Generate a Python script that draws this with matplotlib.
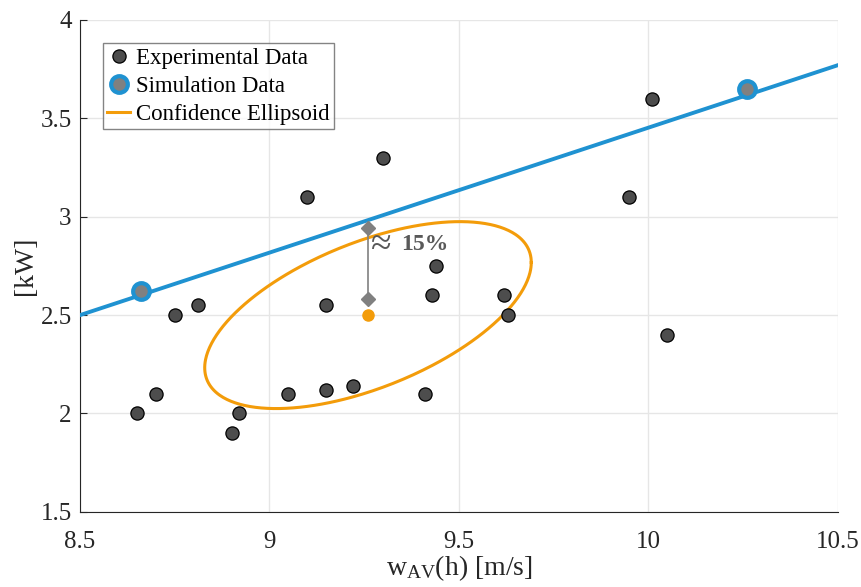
import numpy as np
import matplotlib
matplotlib.use("Agg")
import matplotlib.pyplot as plt

plt.rcParams['font.family'] = ['Liberation Serif', 'DejaVu Serif']
plt.rcParams['mathtext.fontset'] = 'custom'
plt.rcParams['mathtext.rm'] = 'Liberation Serif'
plt.rcParams['mathtext.it'] = 'Liberation Serif:italic'
plt.rcParams['mathtext.bf'] = 'Liberation Serif:bold'

# measured points
exp_w = [8.65, 8.70, 8.75, 8.81, 8.90, 8.92, 9.05, 9.10, 9.15, 9.15,
         9.22, 9.30, 9.41, 9.43, 9.44, 9.62, 9.63, 9.95, 10.01, 10.05]
exp_p = [2.00, 2.10, 2.50, 2.55, 1.90, 2.00, 2.10, 3.10, 2.55, 2.12,
         2.14, 3.30, 2.10, 2.60, 2.75, 2.60, 2.50, 3.10, 3.60, 2.40]

# simulation curve and the two simulated operating points
sim_line_w = [8.5, 10.5]
sim_line_p = [2.50, 3.77]
sim_w = [8.66, 10.26]
sim_p = [2.62, 3.65]

# mean of the measurements and confidence ellipse parameters
mean_w, mean_p = 9.26, 2.50
ell_ax_w, ell_ax_p, ell_phase = 0.431, 0.475, 0.973

# deviation marker
dev_w = [9.26, 9.26]
dev_p = [2.58, 2.945]

BLUE = '#1f92d1'
ORANGE = '#f39c0a'
GREY = '#808080'
TXT = '#262626'

fig = plt.figure(figsize=(8.61, 5.87), dpi=100)
ax = fig.add_axes([0.093, 0.128, 0.880, 0.838])

t = np.linspace(0, 2 * np.pi, 400)
ell_w = mean_w + ell_ax_w * np.cos(t)
ell_p = mean_p + ell_ax_p * np.cos(t + ell_phase)

ax.plot(sim_line_w, sim_line_p, color=BLUE, lw=2.8, zorder=3)
ax.plot(exp_w, exp_p, 'o', ms=9.5, mfc='#4d4d4d', mec='black', mew=0.9,
        zorder=4, label='Experimental Data')
ax.plot(sim_w, sim_p, 'o', ms=12, mfc=GREY, mec=BLUE, mew=3,
        zorder=5, label='Simulation Data')
ax.plot(ell_w, ell_p, color=ORANGE, lw=2.2, zorder=3,
        label='Confidence Ellipsoid')
ax.plot(mean_w, mean_p, 'o', ms=8, color=ORANGE, zorder=4)
ax.plot(dev_w, dev_p, color=GREY, lw=1.2, zorder=3)
ax.plot(dev_w, dev_p, 'D', ms=7, color=GREY, zorder=4)

# deviation annotation
ax.text(9.268, 2.855, '\u2248', fontsize=27, color='#595959',
        va='center', ha='left', zorder=6)
ax.text(9.348, 2.86, '15%', fontsize=17, fontweight='bold',
        color='#595959', va='center', ha='left', zorder=6)

ax.set_xlim(8.5, 10.5)
ax.set_ylim(1.5, 4)
ax.set_xticks([8.5, 9, 9.5, 10, 10.5])
ax.set_xticklabels(['8.5', '9', '9.5', '10', '10.5'])
ax.set_yticks([1.5, 2, 2.5, 3, 3.5, 4])
ax.set_yticklabels(['1.5', '2', '2.5', '3', '3.5', '4'])
ax.grid(True, color='#e6e6e6', lw=1)
ax.set_axisbelow(True)
ax.spines['top'].set_visible(False)
ax.spines['right'].set_visible(False)
for s in ('left', 'bottom'):
    ax.spines[s].set_color(TXT)
    ax.spines[s].set_linewidth(0.8)
ax.tick_params(direction='in', length=5, labelsize=18, colors=TXT)
ax.tick_params(axis='y', pad=6)
ax.tick_params(axis='x', length=0, pad=14)

ax.set_xlabel(r'w$_{\mathrm{AV}}$(h) [m/s]', fontsize=20, color=TXT, labelpad=0)
ax.set_ylabel('[kW]', fontsize=20, color=TXT, labelpad=2)

leg = ax.legend(loc='upper left', bbox_to_anchor=(0.030, 0.953),
                fontsize=16.5, frameon=True, fancybox=False,
                edgecolor='#666666', handlelength=1.0,
                handletextpad=0.25, borderpad=0.2,
                labelspacing=0.3, borderaxespad=0)
leg.get_frame().set_linewidth(1.0)

fig.savefig('out.png', dpi=100)
